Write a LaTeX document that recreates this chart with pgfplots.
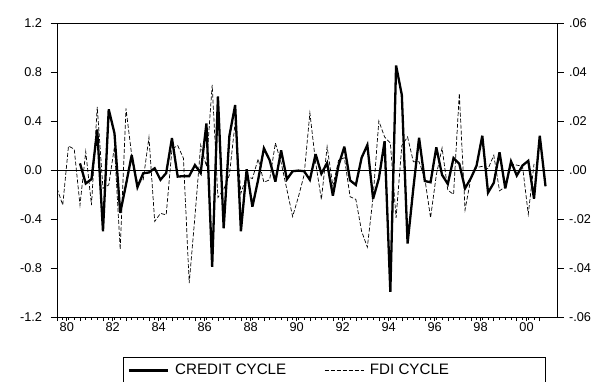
\documentclass[border=0pt]{standalone}
\usepackage{pgfplots}
\usepackage{pgfplotstable}
\pgfplotsset{compat=1.18}
\usepackage{fontspec}
\setmainfont{Liberation Sans}

\pgfplotstableread{
i v
4 0.054
5 -0.11
6 -0.075
7 0.33
8 -0.50
9 0.495
10 0.30
11 -0.35
12 -0.12
13 0.122
14 -0.14
15 -0.027
16 -0.02
17 0.014
18 -0.08
19 -0.025
20 0.26
21 -0.054
22 -0.05
23 -0.05
24 0.04
25 -0.025
26 0.38
27 -0.79
28 0.60
29 -0.476
30 0.28
31 0.53
32 -0.50
33 0.006
34 -0.30
35 -0.08
36 0.177
37 0.08
38 -0.095
39 0.16
40 -0.076
41 -0.01
42 -0.005
43 -0.01
44 -0.08
45 0.13
46 -0.03
47 0.057
48 -0.21
49 0.04
50 0.19
51 -0.085
52 -0.122
53 0.10
54 0.204
55 -0.235
56 -0.07
57 0.235
58 -0.995
59 0.853
60 0.612
61 -0.60
62 -0.15
63 0.263
64 -0.09
65 -0.10
66 0.185
67 -0.04
68 -0.114
69 0.098
70 0.05
71 -0.15
72 -0.068
73 0.035
74 0.28
75 -0.185
76 -0.105
77 0.145
78 -0.15
79 0.07
80 -0.045
81 0.037
82 0.075
83 -0.235
84 0.28
85 -0.133
}\credit

\pgfplotstableread{
i v
0 -0.0075
1 -0.0143
2 0.0098
3 0.0085
4 -0.0143
5 0.0075
6 -0.0143
7 0.0258
8 -0.0075
9 -0.0061
10 0.0095
11 -0.0324
12 0.0251
13 0.0060
14 -0.0053
15 -0.0040
16 0.0133
17 -0.0210
18 -0.0177
19 -0.0183
20 0.0085
21 0.0100
22 0.0048
23 -0.0462
24 -0.0190
25 0.0102
26 0.0015
27 0.0347
28 -0.0112
29 -0.0080
30 -0.0020
31 0.0195
32 -0.0095
33 -0.0025
34 -0.0035
35 0.0045
36 -0.0050
37 -0.0040
38 0.0110
39 0.0030
40 -0.0080
41 -0.0190
42 -0.0110
43 -0.0020
44 0.0233
45 0.0030
46 -0.0120
47 0.0095
48 -0.0065
49 0.0040
50 0.0050
51 -0.0109
52 -0.0120
53 -0.0250
54 -0.0315
55 -0.0110
56 0.0200
57 0.0135
58 0.0110
59 -0.0195
60 0.0100
61 0.0135
62 0.0034
63 0.0034
64 -0.0035
65 -0.0195
66 -0.0020
67 0.0090
68 -0.0082
69 -0.0100
70 0.0313
71 -0.0163
72 -0.0035
73 0.0010
74 0.0015
75 0.0005
76 0.0060
77 -0.0085
78 -0.0068
79 0.0025
80 0.0020
81 0.0015
82 -0.0180
83 0.0025
}\fdi

\begin{document}
\begin{tikzpicture}[x=1bp,y=1bp]
\useasboundingbox (0,0) rectangle (600,381);
\begin{axis}[
  at={(57bp,64bp)}, anchor=south west,
  scale only axis, width=500bp, height=294bp,
  xmin=0, xmax=87, ymin=-1.2, ymax=1.2,
  axis line style={line width=0.9bp},
  tick align=outside,
  tick style={black, line width=0.6bp},
  ytick={-1.2,-0.8,-0.4,0,0.4,0.8,1.2},
  yticklabels={\mbox{-1.2},\mbox{-0.8},\mbox{-0.4},\mbox{0.0},\mbox{0.4},\mbox{0.8},\mbox{1.2}},
  ytick pos=left,
  major tick length=6.5bp,
  xtick={0,4,8,12,16,20,24,28,32,36,40,44,48,52,56,60,64,68,72,76,80,84},
  xticklabels={},
  xtick pos=bottom,
  xtick style={/pgfplots/major tick length=4bp},
  minor x tick num=3,
  minor tick length=2.5bp,
  extra x ticks={1.7,9.7,17.7,25.7,33.7,41.7,49.7,57.7,65.7,73.7,81.7},
  extra x tick labels={\mbox{80},\mbox{82},\mbox{84},\mbox{86},\mbox{88},\mbox{90},\mbox{92},\mbox{94},\mbox{96},\mbox{98},\mbox{00}},
  extra x tick style={/pgfplots/major tick length=0pt},
  ticklabel style={font=\fontsize{12.8}{14}\selectfont},
  yticklabel style={xshift=-5bp},
  xticklabel style={yshift=-2bp},
]
\addplot[black, line width=0.6bp] coordinates {(0,0) (87,0)};
\addplot[black, line width=2.3bp, line join=miter, miter limit=4] table[x=i,y=v] {\credit};
\end{axis}
\begin{axis}[
  at={(57bp,64bp)}, anchor=south west,
  scale only axis, width=500bp, height=294bp,
  xmin=0, xmax=87, ymin=-0.06, ymax=0.06,
  hide x axis,
  axis y line*=right,
  scaled y ticks=false,
  axis line style={line width=0.9bp},
  tick align=outside,
  tick style={black, line width=0.6bp},
  major tick length=6.5bp,
  ytick={-0.06,-0.04,-0.02,0,0.02,0.04,0.06},
  yticklabels={\mbox{-.06},\mbox{-.04},\mbox{-.02},\mbox{.00},\mbox{.02},\mbox{.04},\mbox{.06}},
  ticklabel style={font=\fontsize{12.8}{14}\selectfont},
  yticklabel style={xshift=2bp},
  legend columns=2,
  legend image code/.code={\draw[#1] (0bp,0bp) -- (39bp,0bp); \path (43bp,0bp);},
  legend style={at={(0.131,-0.136)}, anchor=north west, draw=black, line width=0.8bp,
    font=\fontsize{15.2}{17}\selectfont, inner xsep=5bp, inner ysep=5bp,
    /tikz/every even column/.append style={column sep=36bp}},
  legend cell align=left,
]
\addlegendimage{black, line width=2.3bp}
\addlegendentry{CREDIT CYCLE}
\addplot[black, line width=0.7bp, dash pattern=on 4bp off 2bp] table[x=i,y=v] {\fdi};
\addlegendentry{FDI CYCLE\rule{89bp}{0pt}}
\end{axis}
\end{tikzpicture}
\end{document}
